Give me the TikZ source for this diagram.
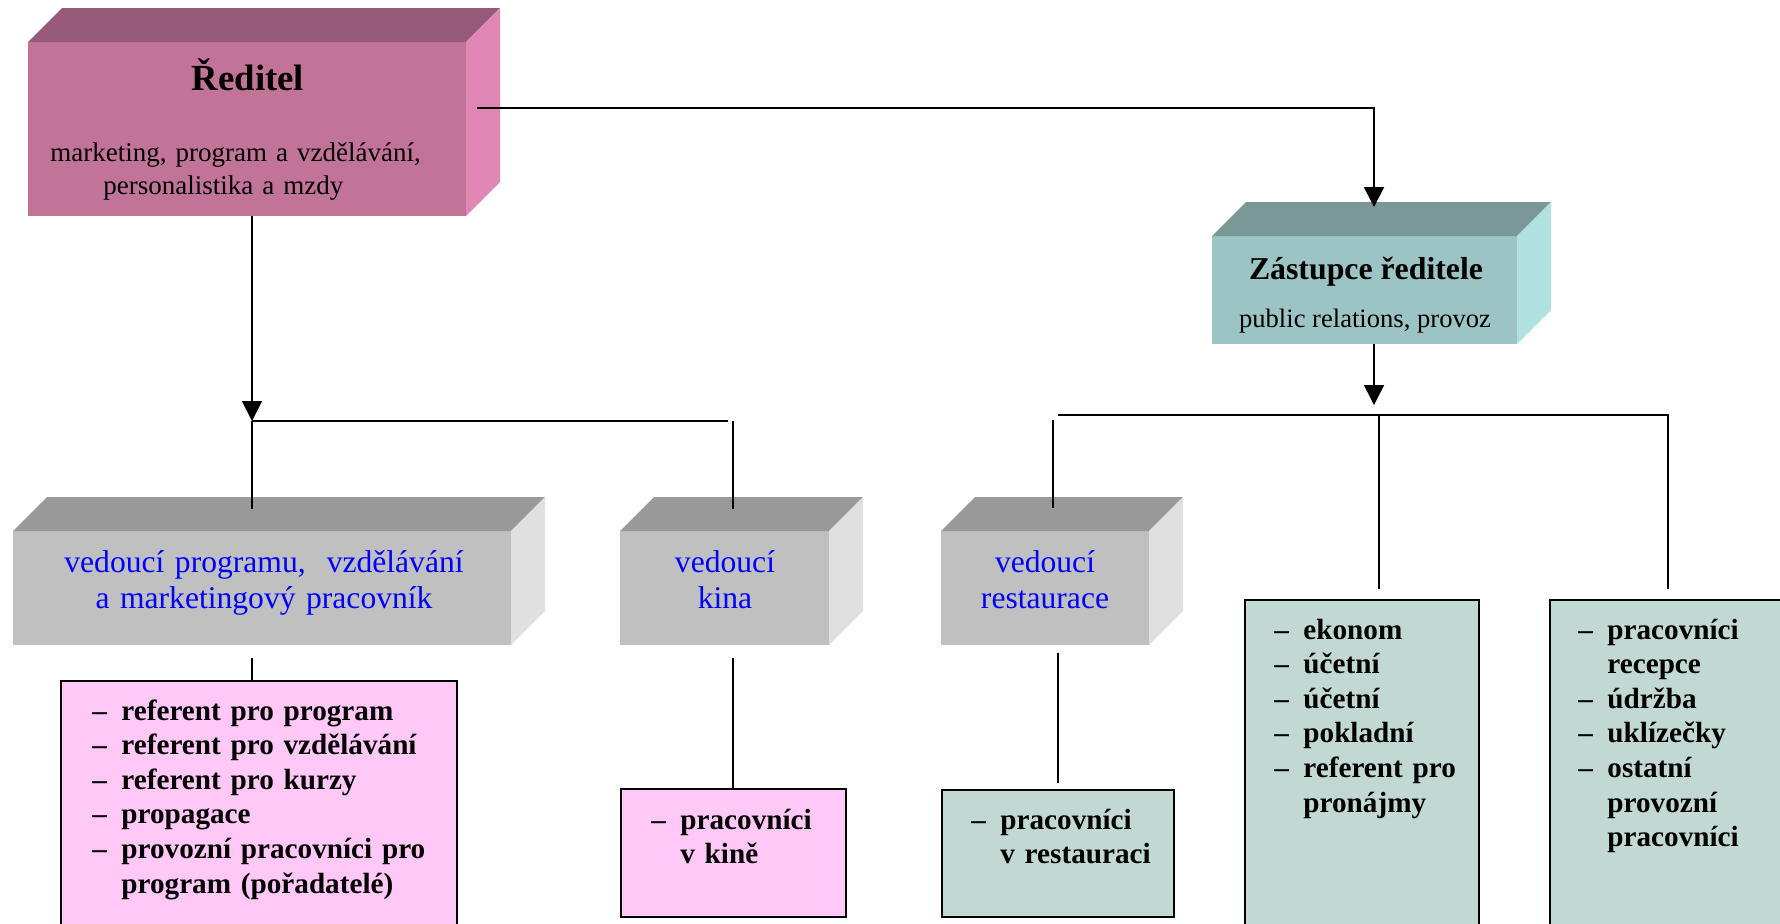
\documentclass[tikz,border=0pt]{standalone}
\usepackage{fontspec}
\setmainfont{Liberation Serif}
\usetikzlibrary{arrows.meta}

\definecolor{redfront}{HTML}{C27398}
\definecolor{redtop}{HTML}{975A78}
\definecolor{redside}{HTML}{E087B5}
\definecolor{zasfront}{HTML}{9CC4C4}
\definecolor{zastop}{HTML}{799896}
\definecolor{zasside}{HTML}{B0E0E0}
\definecolor{grayfront}{HTML}{C0C0C0}
\definecolor{graytop}{HTML}{999999}
\definecolor{grayside}{HTML}{E0E0E0}
\definecolor{pinklist}{HTML}{FFC8F6}
\definecolor{greenlist}{HTML}{C2D9D3}
\definecolor{bluetxt}{HTML}{0000FF}

% top and right face of a 3D box
\newcommand{\cubefaces}[3]{%
  \fill[#2] (#1.north west) -- ++(34,-34) -- ([shift={(34,-34)}]#1.north east) -- (#1.north east) -- cycle;
  \fill[#3] (#1.north east) -- ++(34,-34) -- ([shift={(34,-34)}]#1.south east) -- (#1.south east) -- cycle;
}
\newcommand{\itm}{\makebox[14.5pt][l]{\textendash}}
\newcommand{\ind}{\hspace*{14.5pt}}

\tikzset{
  cube/.style={rectangle, inner sep=0pt, outer sep=0pt},
  listbox/.style={rectangle, draw=black, line width=1.2pt, inner sep=0pt, outer sep=0pt},
  listtext/.style={anchor=base west, inner sep=0pt, text width=#1, align=left,
    font=\fontsize{14.6}{17.3}\selectfont\bfseries},
  graytext/.style={anchor=base, inner sep=0pt, text width=#1, align=center,
    text=bluetxt, font=\fontsize{15.8}{18}\selectfont},
  conn/.style={line width=0.9pt}
}

\begin{document}
\begin{tikzpicture}[x=0.5pt,y=-0.5pt,>={Triangle[width=10pt,length=10pt]}]
\useasboundingbox (0,0) rectangle (1780,923);
\clip (0,0) rectangle (1780,923);

% 3D boxes
\node[cube, fill=redfront, minimum width=219pt, minimum height=87pt] (reditel) at (247,129) {};
\cubefaces{reditel}{redtop}{redside}
\node[cube, fill=zasfront, minimum width=152.5pt, minimum height=54pt] (zastupce) at (1364.5,290) {};
\cubefaces{zastupce}{zastop}{zasside}
\node[cube, fill=grayfront, minimum width=249pt, minimum height=57pt] (vprog) at (262,588) {};
\cubefaces{vprog}{graytop}{grayside}
\node[cube, fill=grayfront, minimum width=104.5pt, minimum height=57pt] (vkina) at (724.5,588) {};
\cubefaces{vkina}{graytop}{grayside}
\node[cube, fill=grayfront, minimum width=104pt, minimum height=57pt] (vrest) at (1045,588) {};
\cubefaces{vrest}{graytop}{grayside}

% lists
\node[listbox, fill=pinklist, minimum width=198pt, minimum height=129.5pt] (lprog) at (259,810.5) {};
\node[listbox, fill=pinklist, minimum width=112.5pt, minimum height=64pt] (lkina) at (733.5,853) {};
\node[listbox, fill=greenlist, minimum width=116pt, minimum height=63.5pt] (lrest) at (1058,853.5) {};
\node[listbox, fill=greenlist, minimum width=117pt, minimum height=170pt] (lekon) at (1362,770) {};
\node[listbox, fill=greenlist, minimum width=125pt, minimum height=170pt] (lrec) at (1675,770) {};

% connectors
\coordinate (k1) at (1374,108);
\coordinate (j2) at (1379,415);
\coordinate (hl) at (1058,415);
\coordinate (hr) at (1668,415);
\coordinate (rtop) at (1053,420);
\coordinate (hl2) at (252,421);
\coordinate (hr2) at (728,421);
\coordinate (ktop) at (733,421);
\draw[conn,->] ([xshift=5.5pt]reditel.east |- k1) -- (k1) -- ([yshift=14.5pt]zastupce.north -| k1);
\draw[conn,->,shorten >=5pt] (zastupce.south -| k1) -- (k1 |- j2);
\draw[conn,shorten >=5.5pt] (hl) -- (hr) -- (hr |- lrec.north);
\draw[conn,shorten >=5.5pt] (j2) -- (j2 |- lekon.north);
\draw[conn,shorten >=11.5pt] (rtop) -- (rtop |- vrest.north);
\draw[conn,->] (reditel.south -| hl2) -- (hl2);
\draw[conn] (hl2) -- (hr2);
\draw[conn,shorten >=11pt] (hl2) -- (hl2 |- vprog.north);
\draw[conn,shorten >=11pt] (ktop) -- (ktop |- vkina.north);
\draw[conn,shorten <=6.5pt] (vprog.south -| hl2) -- (lprog.north -| hl2);
\draw[conn,shorten <=6.5pt] (vkina.south -| ktop) -- (lkina.north -| ktop);
\draw[conn,shorten <=4pt,shorten >=3.5pt] (vrest.south -| lrest.north) -- (lrest.north);

% texts
\node[anchor=base, inner sep=0pt, font=\fontsize{18.4}{22}\selectfont\bfseries] (reditelt) at (248,90) {Ředitel};
\node[anchor=base west, inner sep=0pt, text width=200pt, align=left, font=\fontsize{13.5}{16.5}\selectfont] (reditels) at (50,161)
  {\makebox[188.5pt][s]{marketing, program a vzdělávání,}\\\hspace*{26.5pt}\makebox[128pt][s]{personalistika a mzdy}};
\node[anchor=base, inner sep=0pt, font=\fontsize{15.9}{19}\selectfont\bfseries] (zastupcet) at (1366,279) {Zástupce ředitele};
\node[anchor=base, inner sep=0pt, font=\fontsize{13.3}{16}\selectfont] (zastupces) at (1365,327) {public relations, provoz};
\node[graytext=245pt] (vprogt) at (264,572) {vedoucí programu,\ \ vzdělávání\\a marketingový pracovník};
\node[graytext=100pt] (vkinat) at (725,572) {vedoucí\\kina};
\node[graytext=100pt] (vrestt) at (1045,572) {vedoucí\\restaurace};

\node[listtext=190pt] (lprogt) at (92,720) {\itm referent pro program\\\itm referent pro vzdělávání\\\itm referent pro kurzy\\\itm propagace\\\itm provozní pracovníci pro\\\ind program (pořadatelé)};
\node[listtext=100pt] (lkinat) at (651,829) {\itm pracovníci\\\ind v kině};
\node[listtext=100pt] (lrestt) at (971,829) {\itm pracovníci\\\ind v restauraci};
\node[listtext=100pt] (lekont) at (1274,639) {\itm ekonom\\\itm účetní\\\itm účetní\\\itm pokladní\\\itm referent pro\\\ind pronájmy};
\node[listtext=100pt] (lrect) at (1578,639) {\itm pracovníci\\\ind recepce\\\itm údržba\\\itm uklízečky\\\itm ostatní\\\ind provozní\\\ind pracovníci};
\end{tikzpicture}
\end{document}
